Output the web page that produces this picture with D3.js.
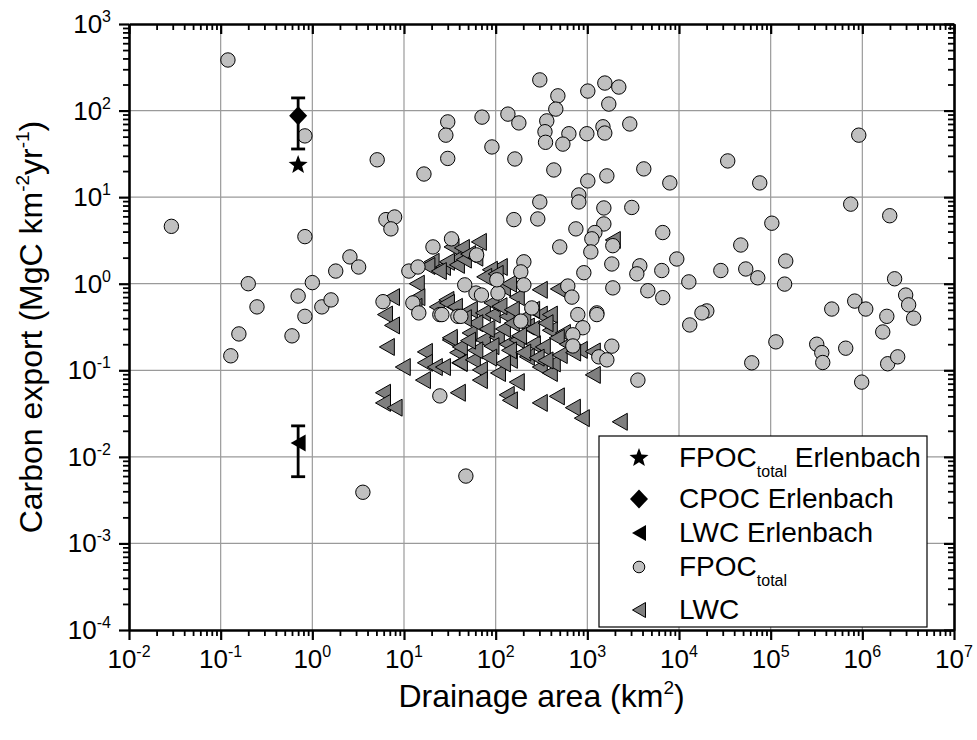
<!DOCTYPE html>
<html>
<head>
<meta charset="utf-8">
<script src="https://cdn.jsdelivr.net/npm/d3@7"></script>
<style>
body { margin: 0; background: #fff; }
svg text { font-family: "Liberation Sans", Arial, sans-serif; fill: #000; }
</style>
</head>
<body>
<div id="chart"></div>
<script>
// FPOC total, [drainage area km2, carbon export MgC km-2 yr-1]
var fpoc = [
    [0.12, 384], [0.83, 51], [0.029, 4.6], [0.83, 3.5], [0.2, 1.0], [1.0, 1.03], [0.7, 0.72],
    [5.1, 27], [30, 74], [28.6, 52], [30, 28], [16.5, 18.5], [6.35, 5.5], [7.9, 5.9], [7.2, 4.3],
    [20.7, 2.66], [33, 3.3], [303, 226], [477, 148], [453, 104], [361, 76], [345, 57], [350, 43],
    [629, 54], [541, 41], [1012, 168], [1552, 208], [2204, 187], [1714, 119], [988, 54], [1480, 65],
    [1550, 55], [2904, 70], [71, 84], [136, 91], [179, 72], [91, 38], [162, 27.6], [431, 20.6],
    [1012, 15.4], [1633, 17.6], [4130, 21.2], [7940, 14.6], [34000, 26.2], [76000, 14.6],
    [807, 10.6], [807, 8.8], [303, 8.8], [1514, 7.5], [3055, 7.6], [158, 5.5], [288, 5.6],
    [750, 4.3], [1514, 4.9], [1208, 3.9], [6650, 3.9], [47200, 2.8], [1120, 3.3], [500, 2.66],
    [1897, 2.75], [914000, 52], [747000, 8.3], [1990000, 6.1], [103000, 5.0],
    [0.249, 0.54], [0.158, 0.263], [0.129, 0.147], [0.83, 0.42], [0.6, 0.25], [1.27, 0.54],
    [1.6, 0.65], [1.8, 1.4], [2.57, 2.04], [3.2, 1.56], [11.3, 1.4], [14.2, 1.56], [5.9, 0.62],
    [12.5, 0.60], [14.5, 0.46], [24.6, 0.44], [38.7, 0.42], [24.6, 0.0506], [1092, 2.33],
    [62, 2.15], [203, 1.79], [188, 1.37], [1849, 1.69], [916, 1.34], [3735, 1.61], [3467, 1.30],
    [6490, 1.42], [9460, 1.93], [12800, 1.05], [28600, 1.42], [53500, 1.48], [72300, 1.17],
    [1897, 0.895], [4570, 0.83], [6650, 0.69], [20100, 0.485], [17800, 0.46], [13100, 0.334],
    [62200, 0.122], [3560, 0.077], [612, 0.94], [678, 0.70], [1270, 0.46], [1270, 0.44],
    [787, 0.44], [893, 0.31], [695, 0.257], [695, 0.191], [1850, 0.19], [1334, 0.143],
    [1633, 0.132], [248, 0.525], [188, 0.37], [203, 0.97], [106, 0.78], [103, 1.11], [61, 0.78],
    [70, 0.74], [46, 0.97], [41.7, 0.42], [25.9, 0.44], [3.56, 0.0039], [47.3, 0.006],
    [146000, 1.83], [142000, 0.99], [114000, 0.213], [464000, 0.51], [826000, 0.63],
    [1090000, 0.51], [2250000, 1.14], [2970000, 0.74], [3200000, 0.57], [3630000, 0.40],
    [1850000, 0.42], [1670000, 0.277], [318000, 0.20], [361000, 0.16], [370000, 0.123],
    [659000, 0.18], [984000, 0.073], [1890000, 0.119], [2430000, 0.143]
];

// LWC, [drainage area km2, carbon export MgC km-2 yr-1]
var lwc = [
    [20, 1.79], [26.6, 1.56], [33, 2.66], [36, 1.9], [13.8, 1.0], [14, 0.70], [13, 0.54],
    [7.4, 0.70], [6.2, 0.44], [7.4, 0.33], [6.5, 0.186], [9.7, 0.109], [16.9, 0.163],
    [16.9, 0.122], [21.7, 0.109], [16.1, 0.077], [5.9, 0.055], [5.9, 0.042], [7.9, 0.037],
    [22.8, 0.54], [29, 0.65], [31.6, 0.224], [38, 0.16], [40, 0.122], [38.7, 0.055],
    [65.6, 3.04], [42.8, 2.59], [29.4, 1.79], [37.8, 1.65], [111, 1.56], [86.5, 1.45],
    [1897, 3.2], [303, 0.85], [477, 0.87], [170, 0.70], [29.4, 0.60], [35.9, 0.54], [52.3, 0.50],
    [72.6, 0.46], [93, 0.44], [132, 0.42], [303, 0.44], [390, 0.44], [219, 0.32], [390, 0.29],
    [541, 0.27], [31.6, 0.237], [52, 0.27], [40.7, 0.186], [72.6, 0.224], [103, 0.24], [132, 0.2],
    [170, 0.224], [255, 0.2], [327, 0.186], [464, 0.237], [828, 0.172], [1148, 0.165],
    [40.7, 0.122], [56.4, 0.132], [67.3, 0.101], [67.3, 0.077], [106, 0.093], [143, 0.132],
    [219, 0.143], [303, 0.109], [390, 0.093], [420, 0.12], [170, 0.073], [132, 0.052],
    [303, 0.042], [465, 0.05], [695, 0.037], [871, 0.028], [1148, 0.0885], [2260, 0.0254],
    [26.6, 0.109], [143, 0.045],
    [60, 0.35], [80, 0.3], [120, 0.3], [150, 0.35], [200, 0.4], [250, 0.3], [45, 0.4], [90, 0.6],
    [110, 0.55], [150, 0.5], [250, 0.5], [350, 0.35], [180, 0.25], [90, 0.19], [60, 0.17],
    [140, 0.17], [200, 0.16], [280, 0.14], [350, 0.13], [500, 0.15], [600, 0.2], [700, 0.16],
    [120, 0.12], [85, 0.14], [50, 0.22], [18, 1.6], [24, 1.4], [45, 1.9], [50, 2.2], [60, 2.0],
    [75, 1.2], [100, 1.3], [120, 0.9], [140, 1.0]
];

// Erlenbach: area, value, [low, high]
var erlenArea = 0.7;
var erlenFpoc = 23.5;
var erlenCpoc = 87, erlenCpocErr = [36, 140];
var erlenLwc = 0.0145, erlenLwcErr = [0.0059, 0.0228];

var xExponents = [-2, -1, 0, 1, 2, 3, 4, 5, 6, 7];
var yExponents = [-4, -3, -2, -1, 0, 1, 2, 3];

var width = 977, height = 740;
var margin = {top: 24, right: 23, bottom: 110, left: 129};

var svg = d3.select("#chart").append("svg")
    .attr("width", width)
    .attr("height", height);

var x_scale = d3.scaleLog()
    .domain([1e-2, 1e7])
    .range([margin.left, width - margin.right]);

var y_scale = d3.scaleLog()
    .domain([1e-4, 1e3])
    .range([height - margin.bottom, margin.top]);

var x0 = x_scale.range()[0], x1 = x_scale.range()[1];
var y0 = y_scale.range()[0], y1 = y_scale.range()[1];

//Minor tick values (2..9 in each decade)
function minorTicks(exps) {
    var out = [];
    for (var i = 0; i < exps.length - 1; i++) {
        for (var m = 2; m < 10; m++) out.push(m * Math.pow(10, exps[i]));
    }
    return out;
}
var xMajor = xExponents.map(function(e) {return Math.pow(10, e);});
var yMajor = yExponents.map(function(e) {return Math.pow(10, e);});

//Grid lines
svg.append("g").selectAll("line")
    .data(xMajor.slice(1, -1))
    .join("line")
    .attr("x1", function(d) {return x_scale(d);})
    .attr("x2", function(d) {return x_scale(d);})
    .attr("y1", y1).attr("y2", y0)
    .attr("stroke", "#9a9a9a").attr("stroke-width", 1.2);

svg.append("g").selectAll("line")
    .data(yMajor.slice(1, -1))
    .join("line")
    .attr("y1", function(d) {return y_scale(d);})
    .attr("y2", function(d) {return y_scale(d);})
    .attr("x1", x0).attr("x2", x1)
    .attr("stroke", "#9a9a9a").attr("stroke-width", 1.2);

//LWC triangles (pointing left)
var triPath = function(w, h) {
    return "M" + (-w / 2) + ",0L" + (w / 2) + "," + (-h / 2) + "L" + (w / 2) + "," + (h / 2) + "Z";
};

svg.append("g").selectAll("path")
    .data(lwc)
    .join("path")
    .attr("transform", function(d) {return "translate(" + x_scale(d[0]) + "," + y_scale(d[1]) + ")";})
    .attr("d", triPath(15, 17))
    .attr("fill", "#7f7f7f")
    .attr("stroke", "#000")
    .attr("stroke-width", 1);

//FPOC circles
svg.append("g").selectAll("circle")
    .data(fpoc)
    .join("circle")
    .attr("cx", function(d) {return x_scale(d[0]);})
    .attr("cy", function(d) {return y_scale(d[1]);})
    .attr("r", 7.2)
    .attr("fill", "#c0c0c0")
    .attr("stroke", "#000")
    .attr("stroke-width", 1);

//Star path
function starPath(ro, ri) {
    var p = [];
    for (var i = 0; i < 10; i++) {
        var r = (i % 2 === 0) ? ro : ri;
        var a = -Math.PI / 2 + i * Math.PI / 5;
        p.push([r * Math.cos(a), r * Math.sin(a)]);
    }
    return "M" + p.map(function(q) {return q[0].toFixed(2) + "," + q[1].toFixed(2);}).join("L") + "Z";
}
var diamondPath = function(rx, ry) {
    return "M0," + (-ry) + "L" + rx + ",0L0," + ry + "L" + (-rx) + ",0Z";
};

//Erlenbach error bars
var errBars = [erlenCpocErr, erlenLwcErr];
var eg = svg.append("g").attr("stroke", "#000").attr("stroke-width", 2.8);
errBars.forEach(function(e) {
    var ex = x_scale(erlenArea);
    eg.append("line").attr("x1", ex).attr("x2", ex)
        .attr("y1", y_scale(e[0])).attr("y2", y_scale(e[1]));
    eg.append("line").attr("x1", ex - 7).attr("x2", ex + 7)
        .attr("y1", y_scale(e[0])).attr("y2", y_scale(e[0]));
    eg.append("line").attr("x1", ex - 7).attr("x2", ex + 7)
        .attr("y1", y_scale(e[1])).attr("y2", y_scale(e[1]));
});

//Erlenbach markers
svg.append("path")
    .attr("transform", "translate(" + x_scale(erlenArea) + "," + y_scale(erlenFpoc) + ")")
    .attr("d", starPath(10, 4.2)).attr("fill", "#000");
svg.append("path")
    .attr("transform", "translate(" + x_scale(erlenArea) + "," + y_scale(erlenCpoc) + ")")
    .attr("d", diamondPath(9, 9.5)).attr("fill", "#000");
svg.append("path")
    .attr("transform", "translate(" + x_scale(erlenArea) + "," + y_scale(erlenLwc) + ")")
    .attr("d", triPath(15, 17)).attr("fill", "#000");

//Axes: bottom/left outward ticks, top/right inward ticks
function drawAxis(axisFn, scale, major, minor, transform, inward) {
    var gm = svg.append("g").attr("transform", transform)
        .call(axisFn(scale).tickValues(minor).tickSize(inward ? -6 : 6).tickFormat(""));
    gm.select(".domain").remove();
    gm.selectAll("line").attr("stroke-width", 1.8);
    var gM = svg.append("g").attr("transform", transform)
        .call(axisFn(scale).tickValues(major).tickSize(inward ? -10 : 10).tickSizeOuter(0).tickFormat(""));
    gM.select(".domain").attr("stroke-width", 2.6);
    gM.selectAll("line").attr("stroke-width", 2.2);
}
var xMinor = minorTicks(xExponents), yMinor = minorTicks(yExponents);
drawAxis(d3.axisBottom, x_scale, xMajor, xMinor, "translate(0," + y0 + ")", false);
drawAxis(d3.axisTop, x_scale, xMajor, xMinor, "translate(0," + y1 + ")", true);
drawAxis(d3.axisLeft, y_scale, yMajor, yMinor, "translate(" + x0 + ",0)", false);
drawAxis(d3.axisRight, y_scale, yMajor, yMinor, "translate(" + x1 + ",0)", true);

//Tick labels with superscript exponents
var xl = svg.append("g").selectAll("text")
    .data(xExponents)
    .join("text")
    .attr("x", function(e) {return x_scale(Math.pow(10, e));})
    .attr("y", y0 + 38)
    .attr("text-anchor", "middle")
    .attr("font-size", 26);
xl.append("tspan").text("10");
xl.append("tspan").attr("dy", -11).attr("font-size", 16).text(function(e) {return e < 0 ? "-" + (-e) : e;});

var yl = svg.append("g").selectAll("text")
    .data(yExponents)
    .join("text")
    .attr("x", x0 - 18)
    .attr("y", function(e) {return y_scale(Math.pow(10, e)) + 9;})
    .attr("text-anchor", "end")
    .attr("font-size", 26);
yl.append("tspan").text("10");
yl.append("tspan").attr("dy", -11).attr("font-size", 16).text(function(e) {return e < 0 ? "-" + (-e) : e;});

//Axis titles
var xt = svg.append("text")
    .attr("x", (x0 + x1) / 2)
    .attr("y", 707)
    .attr("text-anchor", "middle")
    .attr("font-size", 32);
xt.append("tspan").text("Drainage area (km");
xt.append("tspan").attr("dy", -13).attr("font-size", 19).text("2");
xt.append("tspan").attr("dy", 13).text(")");

var yt = svg.append("text")
    .attr("transform", "translate(42," + ((y0 + y1) / 2) + ") rotate(-90)")
    .attr("text-anchor", "middle")
    .attr("font-size", 32);
yt.append("tspan").text("Carbon export (MgC km");
yt.append("tspan").attr("dy", -13).attr("font-size", 19).text("-2");
yt.append("tspan").attr("dy", 13).text("yr");
yt.append("tspan").attr("dy", -13).attr("font-size", 19).text("-1");
yt.append("tspan").attr("dy", 13).text(")");

//Legend
var lg = svg.append("g");
lg.append("rect")
    .attr("x", 599).attr("y", 436).attr("width", 328).attr("height", 191)
    .attr("fill", "#fff").attr("stroke", "#000").attr("stroke-width", 1.2);

var legendRows = [
    {sym: starPath(10, 4.2), fill: "#000", y: 458, label: "FPOC", sub: "total", tail: " Erlenbach"},
    {sym: diamondPath(9, 9.5), fill: "#000", y: 499, label: "CPOC Erlenbach"},
    {sym: triPath(14, 16), fill: "#000", y: 533, label: "LWC Erlenbach"},
    {sym: null, fill: "#c0c0c0", y: 567, label: "FPOC", sub: "total"},
    {sym: triPath(13, 15), fill: "#7f7f7f", y: 610, label: "LWC"}
];
legendRows.forEach(function(r) {
    if (r.sym) {
        lg.append("path").attr("transform", "translate(639," + r.y + ")")
            .attr("d", r.sym).attr("fill", r.fill)
            .attr("stroke", r.fill === "#000" ? "none" : "#000").attr("stroke-width", 1);
    } else {
        lg.append("circle").attr("cx", 639).attr("cy", r.y).attr("r", 5.8)
            .attr("fill", r.fill).attr("stroke", "#000").attr("stroke-width", 1);
    }
    var t = lg.append("text").attr("x", 679).attr("y", r.y + 9).attr("font-size", 28);
    t.append("tspan").text(r.label);
    if (r.sub) {
        t.append("tspan").attr("dy", 10).attr("font-size", 16).text(r.sub);
        if (r.tail) t.append("tspan").attr("dy", -10).text(r.tail);
    }
});
</script>
</body>
</html>
